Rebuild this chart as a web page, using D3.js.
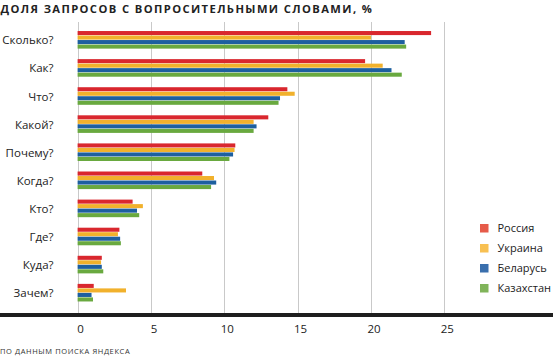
<!DOCTYPE html>
<html><head><meta charset="utf-8">
<script src="https://cdn.jsdelivr.net/npm/d3@7"></script>
<style>
body{margin:0;background:#fff;}
svg{display:block;}
text{font-family:"Open Sans","Noto Sans",sans-serif;}
</style></head>
<body><svg id="c" width="553" height="356"></svg>
<script>
const categories = ["Сколько?","Как?","Что?","Какой?","Почему?","Когда?","Кто?","Где?","Куда?","Зачем?"];
const seriesNames = ["Россия","Украина","Беларусь","Казахстан"];
const russia     = [24.1,19.6,14.3,13.0,10.75,8.5,3.75,2.85,1.65,1.1];
const ukraine    = [20.0,20.8,14.8,12.0,10.7,9.3,4.45,2.75,1.6,3.3];
const belarus    = [22.3,21.4,13.8,12.2,10.6,9.45,4.05,2.9,1.65,0.95];
const kazakhstan = [22.4,22.1,13.7,12.0,10.35,9.1,4.2,2.95,1.75,1.05];
const xTicks = [0,5,10,15,20,25];
const barColors = ["#d9272e","#f1b12c","#1d5f9f","#69a93f"];
const legendColors = ["#e65b49","#f8c052","#3a6fad","#80b45a"];
const title = "ДОЛЯ ЗАПРОСОВ С ВОПРОСИТЕЛЬНЫМИ СЛОВАМИ, %";
const footer = "ПО ДАННЫМ ПОИСКА ЯНДЕКСА";

const values = [russia, ukraine, belarus, kazakhstan];
const svg = d3.select("#c");

const x = d3.scaleLinear().domain([0,25]).range([77.6, 444.3]);
const y = d3.scaleBand().domain(categories).range([22.6, 309.9]).paddingInner(0.374).paddingOuter(0.3);
const ys = d3.scaleBand().domain(seriesNames).range([0, y.bandwidth()]).paddingInner(0.1);

// title
svg.append("text").attr("x",0.5).attr("y",13).attr("font-size",11.2).attr("font-weight",700)
  .attr("letter-spacing",1.4).attr("fill","#222").text(title);

// gridlines
svg.append("g").selectAll("line").data(xTicks).join("line")
  .attr("x1",d=>Math.round(x(d))+0.5).attr("x2",d=>Math.round(x(d))+0.5)
  .attr("y1",22).attr("y2",314).attr("stroke","#c9c9c9").attr("stroke-width",1);

// bars
const g = svg.append("g");
categories.forEach((c,i)=>{
  seriesNames.forEach((s,j)=>{
    g.append("rect").attr("x",x(0)).attr("y",y(c)+ys(s))
      .attr("width",x(values[j][i])-x(0)).attr("height",ys.bandwidth())
      .attr("fill",barColors[j]);
  });
});

// category labels
svg.append("g").selectAll("text").data(categories).join("text")
  .attr("x",53.5).attr("y",d=>y(d)+y.bandwidth()/2+4.5)
  .attr("text-anchor","end").attr("font-size",11.5).attr("fill","#222").text(d=>d);

// axis
const axis = svg.append("g").attr("transform","translate(0,315)");
axis.call(d3.axisBottom(x).tickValues(xTicks).tickSize(0).tickPadding(10).tickFormat(d3.format("d")));
axis.select(".domain").remove();
axis.selectAll("text").attr("font-size",11.5).attr("fill","#222").attr("dx",2.5)
  .style("font-family","'Open Sans','Noto Sans',sans-serif");
svg.append("rect").attr("x",0).attr("y",313).attr("width",553).attr("height",4).attr("fill","#1e1e1e");

// legend
const lg = svg.append("g");
seriesNames.forEach((s,j)=>{
  lg.append("rect").attr("x",480).attr("y",224+j*20).attr("width",8.5).attr("height",8.5).attr("fill",legendColors[j]);
  lg.append("text").attr("x",497.5).attr("y",232+j*20).attr("font-size",11).attr("fill","#222").text(s);
});

// footer
svg.append("text").attr("x",0).attr("y",354).attr("font-size",7.5).attr("letter-spacing",0.6).attr("fill","#333").text(footer);
</script></body></html>
